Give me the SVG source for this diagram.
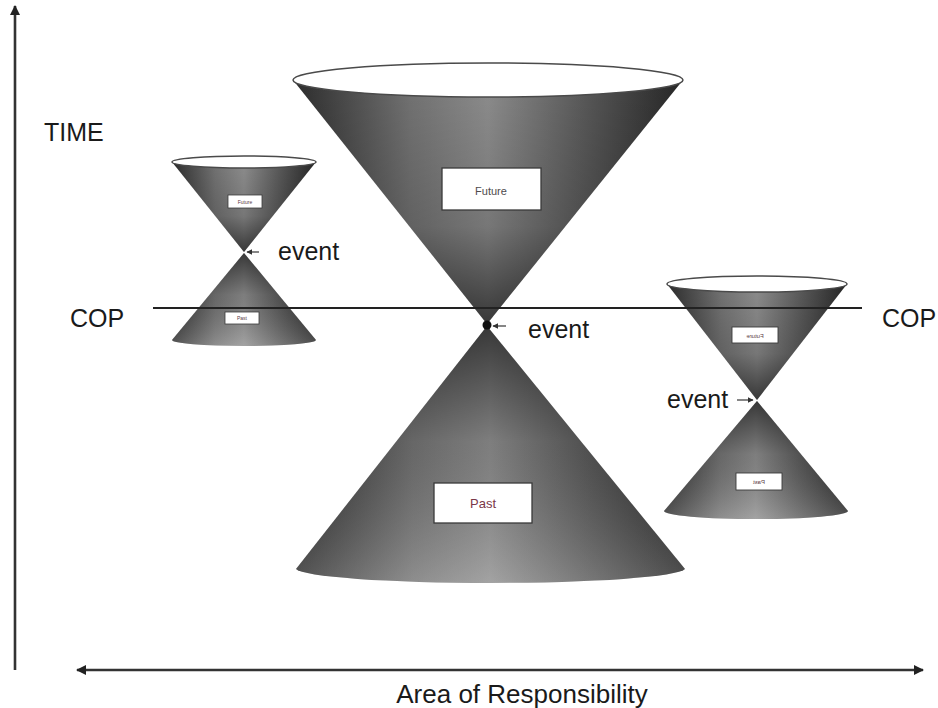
<svg xmlns="http://www.w3.org/2000/svg" width="938" height="708" viewBox="0 0 938 708">
<style>
.lbl{font-family:"Liberation Sans",Arial,sans-serif;font-size:25px;fill:#1a1a1a}
.box{fill:#ffffff;stroke:#3a3a3a;stroke-width:1.3}
.rim{fill:#ffffff;stroke:#4a4a4a;stroke-width:1.5}
.axis{stroke:#333;stroke-width:2.6;fill:none}
.evt{stroke:#444;stroke-width:1.3;fill:none}
.tiny{font-family:"Liberation Sans",Arial,sans-serif;fill:#5a3a44;text-anchor:middle}
</style>
<defs>
<linearGradient id="gH" x1="0" y1="0" x2="1" y2="0">
<stop offset="0" stop-color="#2c2c2c"/>
<stop offset="0.3" stop-color="#727272"/>
<stop offset="0.5" stop-color="#8c8c8c"/>
<stop offset="0.75" stop-color="#585858"/>
<stop offset="1" stop-color="#262626"/>
</linearGradient>
<linearGradient id="gUp" x1="0" y1="0" x2="0" y2="1">
<stop offset="0" stop-color="#000" stop-opacity="0"/>
<stop offset="0.6" stop-color="#000" stop-opacity="0.15"/>
<stop offset="1" stop-color="#000" stop-opacity="0.6"/>
</linearGradient>
<linearGradient id="gDn" x1="0" y1="0" x2="0" y2="1">
<stop offset="0" stop-color="#000" stop-opacity="0.6"/>
<stop offset="0.45" stop-color="#000" stop-opacity="0.1"/>
<stop offset="1" stop-color="#fff" stop-opacity="0.2"/>
</linearGradient>
<marker id="ah" viewBox="0 0 10 10" refX="9" refY="5" markerWidth="10" markerHeight="10" markerUnits="userSpaceOnUse" orient="auto-start-reverse">
<path d="M0,0 L10,5 L0,10 Z" fill="#222"/>
</marker>
<marker id="ahs" viewBox="0 0 10 10" refX="9" refY="5" markerWidth="6" markerHeight="6" markerUnits="userSpaceOnUse" orient="auto">
<path d="M0,0 L10,5 L0,10 Z" fill="#333"/>
</marker>
</defs>
<rect width="938" height="708" fill="#ffffff"/>

<g id="axes">
<line class="axis" x1="15" y1="670" x2="15" y2="6" marker-end="url(#ah)"/>
<line class="axis" x1="77" y1="670" x2="923" y2="670" marker-start="url(#ah)" marker-end="url(#ah)"/>
<text class="lbl" x="44" y="141">TIME</text>
<text class="lbl" x="522" y="703" text-anchor="middle" style="font-size:26px">Area of Responsibility</text>
</g>

<g id="cone-center">
<path d="M293,80 L683,80 L487,324 Z" fill="url(#gH)"/>
<path d="M293,80 L683,80 L487,324 Z" fill="url(#gUp)"/>
<ellipse class="rim" cx="488" cy="80" rx="195" ry="17"/>
<path d="M487,326 L296,569 A195,15 0 0 0 685,569 Z" fill="url(#gH)"/>
<path d="M487,326 L296,569 A195,15 0 0 0 685,569 Z" fill="url(#gDn)"/>
<rect class="box" x="442" y="168" width="99" height="42"/>
<text class="tiny" x="491" y="195" font-size="11" style="fill:#4e4a4c">Future</text>
<rect class="box" x="434" y="483" width="98" height="40"/>
<text class="tiny" x="483" y="508" font-size="13" style="fill:#7a3848">Past</text>
<circle cx="487" cy="325" r="4.5" fill="#111"/>
</g>

<g id="cone-left">
<path d="M172,162 L316,162 L244,252 Z" fill="url(#gH)"/>
<path d="M172,162 L316,162 L244,252 Z" fill="url(#gUp)"/>
<ellipse class="rim" cx="244" cy="162" rx="72" ry="6"/>
<path d="M244,253 L172,340 A72,6 0 0 0 316,340 Z" fill="url(#gH)"/>
<path d="M244,253 L172,340 A72,6 0 0 0 316,340 Z" fill="url(#gDn)"/>
<rect class="box" x="228" y="195" width="34" height="13" style="stroke-width:0.8"/>
<text class="tiny" x="245" y="204" font-size="5">Future</text>
<rect class="box" x="225" y="312" width="34" height="12" style="stroke-width:0.8"/>
<text class="tiny" x="242" y="320" font-size="5">Past</text>
</g>

<g id="cone-right">
<path d="M667,284 L847,284 L757,400 Z" fill="url(#gH)"/>
<path d="M667,284 L847,284 L757,400 Z" fill="url(#gUp)"/>
<ellipse class="rim" cx="757" cy="284" rx="90" ry="8"/>
<path d="M757,401 L664,511 A92,8 0 0 0 848,511 Z" fill="url(#gH)"/>
<path d="M757,401 L664,511 A92,8 0 0 0 848,511 Z" fill="url(#gDn)"/>
<rect class="box" x="732" y="327" width="46" height="16" style="stroke-width:0.9"/>
<text class="tiny" transform="translate(755,338) scale(-1,1)" font-size="6">Future</text>
<rect class="box" x="736" y="473" width="46" height="17" style="stroke-width:0.9"/>
<text class="tiny" transform="translate(759,484) scale(-1,1)" font-size="6">Past</text>
</g>

<g id="cop">
<line x1="153" y1="308" x2="862" y2="308" stroke="#222" stroke-width="2"/>
<text class="lbl" x="70" y="327">COP</text>
<text class="lbl" x="882" y="327">COP</text>
</g>

<g id="events">
<line class="evt" x1="259" y1="252" x2="247" y2="252" marker-end="url(#ahs)"/>
<text class="lbl" x="278" y="260">event</text>
<line class="evt" x1="506" y1="326" x2="493" y2="326" marker-end="url(#ahs)"/>
<text class="lbl" x="528" y="338">event</text>
<line class="evt" x1="737" y1="400" x2="753" y2="400" marker-end="url(#ahs)"/>
<text class="lbl" x="667" y="408">event</text>
</g>
</svg>
